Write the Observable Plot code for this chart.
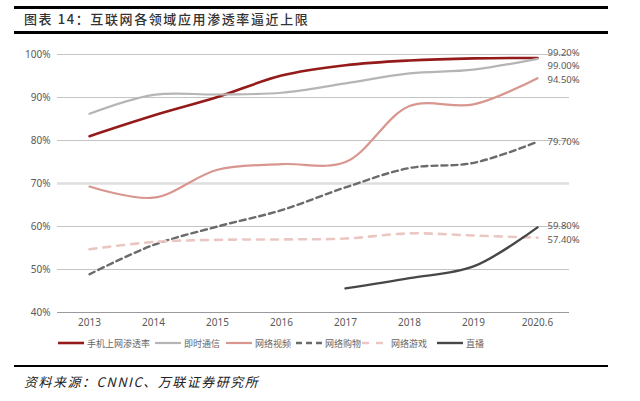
<!DOCTYPE html>
<html><head><meta charset="utf-8">
<script src="https://cdn.jsdelivr.net/npm/d3@7"></script>
<script src="https://cdn.jsdelivr.net/npm/@observablehq/plot@0.6"></script>
<style>
body{margin:0;background:#fff;font-family:"Noto Sans CJK SC","Noto Sans",sans-serif;}
#wrap{position:relative;width:640px;height:401px;background:#fff;overflow:hidden}
.rule{position:absolute;left:14px;width:594px;background:#000}
#title{position:absolute;left:24px;top:9px;font-size:13px;color:#333;letter-spacing:1.6px;font-weight:500}
#chart{position:absolute;left:0;top:36px}
#legend{position:absolute;top:335px;left:0;width:640px;height:16px;font-size:9px;color:#666}
.li{position:absolute;top:0;display:flex;align-items:center;height:16px;white-space:nowrap}
.li svg{margin-right:3px}
#source{position:absolute;left:24px;top:372px;font-size:13px;font-style:italic;color:#222;letter-spacing:1.5px}
</style></head>
<body>
<div id="wrap">
  <div class="rule" style="top:6px;height:3px"></div>
  <div id="title">图表 14：互联网各领域应用渗透率逼近上限</div>
  <div class="rule" style="top:31px;height:3px"></div>
  <div id="chart"></div>
  <div id="legend"></div>
  <div class="rule" style="top:365px;height:2px"></div>
  <div id="source">资料来源：CNNIC、万联证券研究所</div>
</div>
<script>
const years = ["2013","2014","2015","2016","2017","2018","2019","2020.6"];
const mobile = [81.0, 85.8, 90.1, 95.1, 97.5, 98.6, 99.1, 99.2];
const im     = [86.2, 90.6, 90.7, 91.1, 93.3, 95.6, 96.5, 99.0];
const video  = [69.3, 66.7, 73.2, 74.5, 75.0, 88.0, 88.4, 94.5];
const shop   = [48.9, 55.7, 60.0, 63.8, 69.1, 73.6, 74.8, 79.7];
const game   = [54.7, 56.4, 56.9, 57.0, 57.2, 58.4, 57.9, 57.4];
const live   = [null, null, null, null, 45.6, 48.0, 50.7, 59.8];
const yTicks = [40, 50, 60, 70, 80, 90, 100];
const seriesNames = ["手机上网渗透率","即时通信","网络视频","网络购物","网络游戏","直播"];

const styles = [
  {stroke:"#951b1b", w:2.6, dash:null},
  {stroke:"#b5b5b5", w:2.2, dash:null},
  {stroke:"#d8968f", w:2.2, dash:null},
  {stroke:"#6b6b6b", w:2.4, dash:"6,4"},
  {stroke:"#ebc7c3", w:2.6, dash:"7,7"},
  {stroke:"#474747", w:2.4, dash:null}
];
const allVals = [mobile, im, video, shop, game, live];

const toRows = (vals, name) => vals.map((v,i)=>({i, v, name})).filter(d=>d.v!=null);

const lineMarks = allVals.map((vals,k)=>Plot.line(toRows(vals, seriesNames[k]), {
  x:"i", y:"v", stroke: styles[k].stroke, strokeWidth: styles[k].w,
  strokeDasharray: styles[k].dash || undefined, curve:"catmull-rom"
}));

const last = years.length - 1;
const endLabels = [
  {v: mobile[last], dy:-5}, {v: im[last], dy:7}, {v: video[last], dy:2},
  {v: shop[last], dy:0}, {v: live[last], dy:-1}, {v: game[last], dy:2}
];
const labelMarks = endLabels.map(l=>Plot.text([l], {
  x:()=>last, y:"v", dx:10, dy:l.dy, text:d=>d.v.toFixed(2)+"%",
  textAnchor:"start", fontSize:9.5, fill:"#595959"
}));

const chart = Plot.plot({
  width:640, height:300,
  marginTop:18, marginBottom:24, marginLeft:57, marginRight:71,
  style:{fontFamily:"'Noto Sans','DejaVu Sans',sans-serif", background:"transparent"},
  x:{domain:[-0.5,7.5], axis:null, label:null},
  y:{domain:[40,100], axis:null, label:null},
  marks:[
    Plot.ruleY(yTicks.filter(t=>t!==70 && t!==40), {y:d=>d, stroke:"#c4c4c4", strokeWidth:1}),
    Plot.ruleY([70], {y:d=>d, stroke:"#dedede", strokeWidth:2.5}),
    Plot.ruleY([40], {y:d=>d, stroke:"#9a9a9a", strokeWidth:1}),
    Plot.axisY({ticks:yTicks, tickFormat:d=>d+"%", tickSize:0, tickPadding:7, fontSize:10, color:"#595959", anchor:"left", label:null}),
    Plot.axisX({ticks:d3.range(years.length), tickFormat:i=>years[i], tickSize:0, tickPadding:6, fontSize:10, color:"#595959", anchor:"bottom", label:null}),
    ...lineMarks,
    ...labelMarks
  ]
});
document.getElementById("chart").appendChild(chart);

// legend
const legendX = [58, 155, 226, 296, 362, 437];
const leg = document.getElementById("legend");
seriesNames.forEach((name,k)=>{
  const s = styles[k];
  const d = document.createElement("div");
  d.className = "li";
  d.style.left = legendX[k]+"px";
  d.innerHTML = `<svg width="26" height="6"><line x1="0" y1="3" x2="26" y2="3" stroke="${s.stroke}" stroke-width="${s.w}" ${s.dash?`stroke-dasharray="${s.dash}"`:""}/></svg>${name}`;
  leg.appendChild(d);
});
</script>
</body></html>
